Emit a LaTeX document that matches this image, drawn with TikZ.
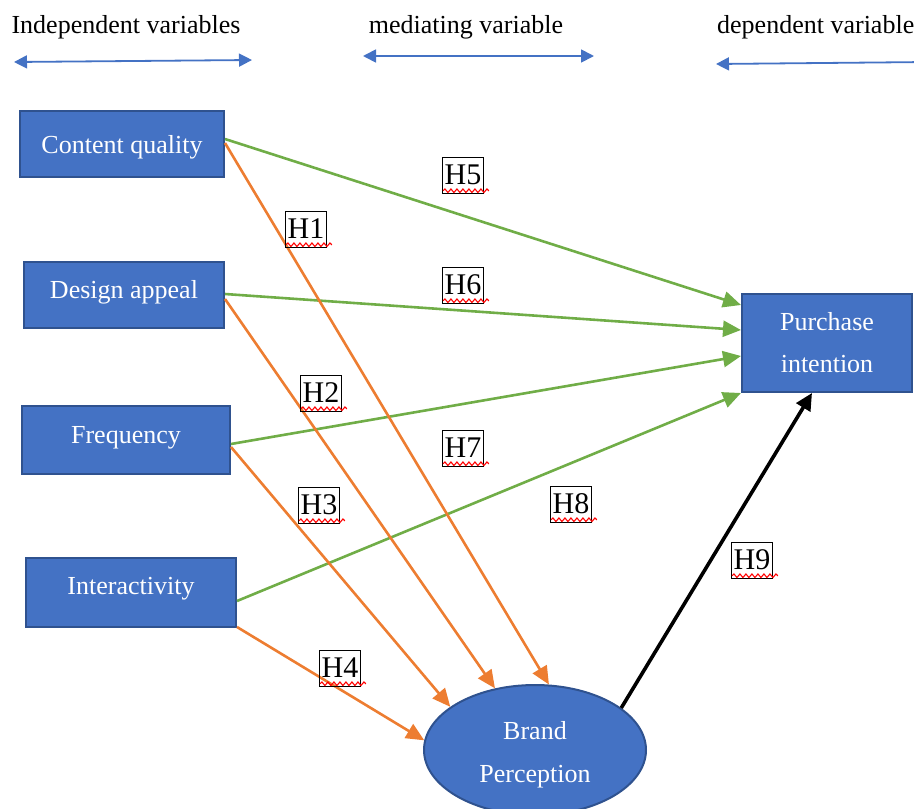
\documentclass[tikz,border=0pt]{standalone}
\usepackage{fontspec}
\setmainfont{Liberation Serif}
\usetikzlibrary{arrows.meta,shapes.geometric,decorations.pathmorphing}
\definecolor{boxblue}{HTML}{4472C4}
\definecolor{boxedge}{HTML}{2F528F}
\definecolor{pathgreen}{HTML}{70AD47}
\definecolor{pathorange}{HTML}{ED7D31}
% shift a label inside its box without changing the box's reported size
\newcommand\liftup[2]{\raisebox{#1}[\height][\depth]{#2}}
\begin{document}
\begin{tikzpicture}[x=1pt,y=-1pt,
  varbox/.style={rectangle, draw=boxedge, line width=2pt, fill=boxblue, text=white,
    inner sep=0pt, align=center, font=\fontsize{26}{42}\selectfont},
  mediator/.style={ellipse, draw=boxedge, line width=2pt, fill=boxblue, text=white,
    inner sep=0pt, align=center, font=\fontsize{26}{43}\selectfont},
  headtext/.style={inner sep=0pt, font=\fontsize{26}{30}\selectfont},
  hyplabel/.style={draw=black, line width=0.9pt, inner sep=0pt, minimum width=41pt,
    minimum height=36pt, font=\fontsize{30}{34}\selectfont},
  wave/.style={draw=red, line width=1.1pt, decorate,
    decoration={snake, amplitude=1.8pt, segment length=6pt}},
  headarrow/.style={draw=boxblue, line width=1.8pt,
    {Triangle[length=13pt,width=13pt]}-{Triangle[length=13pt,width=13pt]}},
  greenlink/.style={draw=pathgreen, line width=2.6pt, -{Triangle[length=18pt,width=16pt]}},
  orangelink/.style={draw=pathorange, line width=2.6pt, -{Triangle[length=18pt,width=16pt]}},
  blacklink/.style={draw=black, line width=3.6pt, -{Triangle[length=17pt,width=16pt]}}
]
\useasboundingbox (0,0) rectangle (914,809);
\clip (0,0) rectangle (914,809);

% column headings
\node[headtext] (indep) at (126,27) {Independent variables};
\node[headtext] (med) at (466,27) {mediating variable};
\node[headtext, anchor=west] (dep) at (717,27) {dependent variable};

\coordinate (a1) at (14,62);
\coordinate (a2) at (252,60);
\coordinate (m1) at (363,56);
\coordinate (m2) at (594,56);
\coordinate (d1) at (716,64);
\coordinate (d2) at (928,62);
\draw[headarrow] (a1) -- (a2);
\draw[headarrow] (m1) -- (m2);
\draw[headarrow] (d1) -- (d2);

% constructs
\node[varbox, minimum width=204pt, minimum height=66pt] (cq) at (122,144) {\liftup{-3pt}{Content quality}};
\node[varbox, minimum width=200pt, minimum height=66pt] (da) at (124,295) {\liftup{3pt}{Design appeal}};
\node[varbox, minimum width=208pt, minimum height=68pt] (fr) at (126,440) {\liftup{2pt}{Frequency}};
\node[varbox, minimum width=210pt, minimum height=69pt] (ia) at (131,592.5) {\liftup{4pt}{Interactivity}};
\node[varbox, minimum width=170pt, minimum height=98pt] (pi) at (827,343) {Purchase\\intention};
\node[mediator, minimum width=222pt, minimum height=130pt] (bp) at (535,750) {\liftup{-5pt}{Brand}\\\liftup{-5pt}{Perception}};

% direct effects on purchase intention
\draw[greenlink] ([yshift=5pt]cq.east) -- ([yshift=38pt]pi.west);
\draw[greenlink] ([yshift=1pt]da.east) -- ([yshift=13pt]pi.west);
\draw[greenlink] ([yshift=-4pt]fr.east) -- ([yshift=-13pt]pi.west);
\draw[greenlink] ([yshift=-8.5pt]ia.east) -- (pi.south west);

% effects on brand perception
\draw[orangelink] ([yshift=1pt]cq.east) -- (bp.78);
\draw[orangelink] ([yshift=-4pt]da.east) -- (bp.123);
\draw[orangelink] ([yshift=-7pt]fr.east) -- (bp.153);
\draw[orangelink] ([yshift=1pt]ia.south east) -- (bp.175);

% mediator to outcome
\draw[blacklink] (bp.26) -- ([xshift=-15pt]pi.south);

% hypothesis labels
\foreach \nm/\px/\py/\txt in {h1/306/229/H1, h2/321/393/H2, h3/319/505/H3,
    h4/340/668/H4, h5/463/175/H5, h6/463/285/H6, h7/463/448/H7,
    h8/571/504/H8, h9/752/560/H9}{
  \node[hyplabel] (\nm) at (\px,\py) {\txt};
  \draw[wave] ([xshift=1pt,yshift=2.7pt]\nm.south west) -- ([xshift=5pt,yshift=2.7pt]\nm.south east);
}
\end{tikzpicture}
\end{document}
